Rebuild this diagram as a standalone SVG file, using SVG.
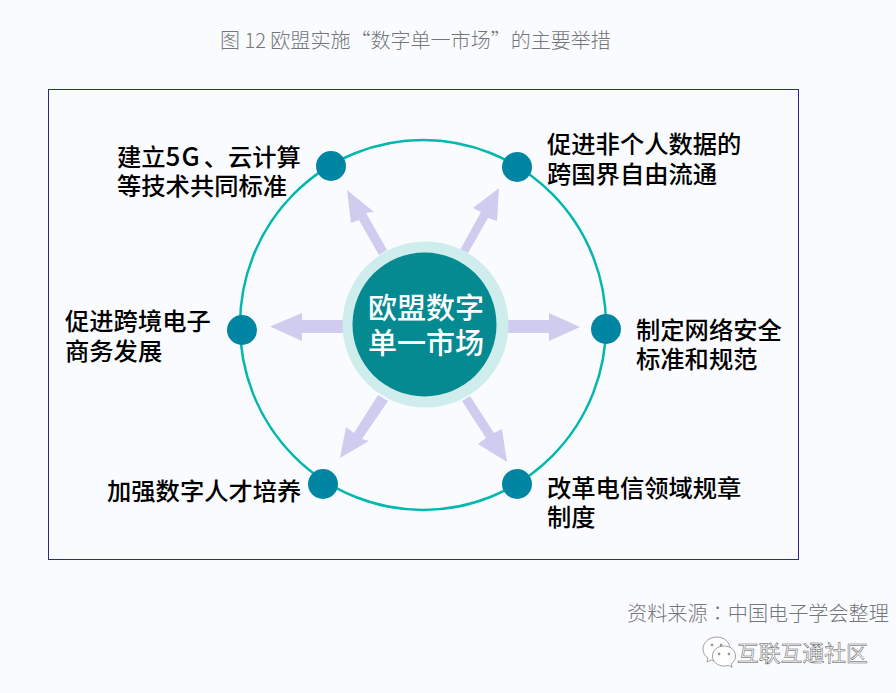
<svg xmlns="http://www.w3.org/2000/svg" width="896" height="693" viewBox="0 0 896 693">
<style>
text{font-family:"Noto Sans CJK SC","Noto Sans",sans-serif}
.lb{font-size:24.300px;fill:#000;font-weight:500}
.ctr{font-size:29px;fill:#fff;font-weight:500;text-anchor:middle}
.dot{fill:#0086a2}
.arr{fill:#d0ccf0}
</style>
<rect width="896" height="693" fill="#fafbfe"/>
<text x="220" y="48" font-size="20.050" fill="#74767b" font-weight="300">图 12 欧盟实施“数字单一市场”的主要举措</text>
<rect x="48.500" y="89.500" width="750" height="470" fill="none" stroke="#2a2a8c" stroke-width="1"/>
<ellipse cx="423" cy="325" rx="183" ry="185" fill="none" stroke="#00b8b0" stroke-width="2.500"/>
<g id="connectors">
<polygon class="arr" points="379,255 387,250 366,213 374,212 347,190 351,223 359,220"/>
<polygon class="arr" points="460,250 468,253 488,218 497,221 499,188 473,208 481,212"/>
<polygon class="arr" points="345,320 302,320 302,313 270,326.500 302,341 302,333 345,333"/>
<polygon class="arr" points="506,320 549,320 549,313 580,327 549,341 549,333 506,333"/>
<polygon class="arr" points="378,395 388,401 362,439 369,441 340,458 346,427 354,433"/>
<polygon class="arr" points="462,401 470,396 494,433 502,429 507,462 478,444 486,438"/>
</g>
<g id="center">
<circle cx="425.500" cy="324.500" r="83" fill="#cfeded"/>
<circle cx="424.500" cy="324.500" r="72" fill="#058a92"/>
<text class="ctr" x="426" y="319">欧盟数字</text>
<text class="ctr" x="426" y="354">单一市场</text>
</g>
<g id="n1"><circle class="dot" cx="331" cy="166" r="15"/>
<text class="lb" x="117" y="166">建立<tspan font-size="26" letter-spacing="1">5G</tspan><tspan dx="3">、云计算</tspan></text><text class="lb" x="117" y="195">等技术共同标准</text></g>
<g id="n2"><circle class="dot" cx="517" cy="167" r="15"/>
<text class="lb" x="547" y="153">促进非个人数据的</text><text class="lb" x="547" y="183">跨国界自由流通</text></g>
<g id="n3"><circle class="dot" cx="242" cy="330" r="15"/>
<text class="lb" x="65" y="330">促进跨境电子</text><text class="lb" x="65" y="360">商务发展</text></g>
<g id="n4"><circle class="dot" cx="606" cy="329" r="15"/>
<text class="lb" x="636" y="339">制定网络安全</text><text class="lb" x="636" y="368">标准和规范</text></g>
<g id="n5"><circle class="dot" cx="323" cy="484" r="15"/>
<text class="lb" x="107" y="500">加强数字人才培养</text></g>
<g id="n6"><circle class="dot" cx="517" cy="484" r="15"/>
<text class="lb" x="547" y="497">改革电信领域规章</text><text class="lb" x="547" y="526">制度</text></g>
<text x="627" y="621" font-size="20.150" fill="#74767b" font-weight="300">资料来源<tspan font-family="Noto Sans CJK TC">：</tspan>中国电子学会整理</text>
<g id="wechat" fill="#fff" stroke="#888" stroke-width="0.800">
<path d="M717 637c-8 0-14 5.500-14 12 0 4 2 7 5 9l-1 4 4-2c2 .6 4 1 6 1 7 0 13-5 13-12s-6-12-13-12z"/>
<path d="M724 646c-6.500 0-11.500 4.300-11.500 10s5 10 11.500 10c1.500 0 3-.2 4.500-.7l3.500 2-.8-3.500c2.800-1.800 4.300-4.700 4.300-7.800 0-5.700-5-10-11.500-10z"/>
<circle cx="712" cy="645" r="1" fill="#888"/><circle cx="721" cy="645" r="1" fill="#888"/><circle cx="719" cy="654" r="1" fill="#888"/><circle cx="729" cy="654" r="1" fill="#888"/>
</g>
<text x="737" y="661" font-size="21.800" fill="#fff" stroke="#555" stroke-width="0.500">互联互通社区</text>
</svg>
